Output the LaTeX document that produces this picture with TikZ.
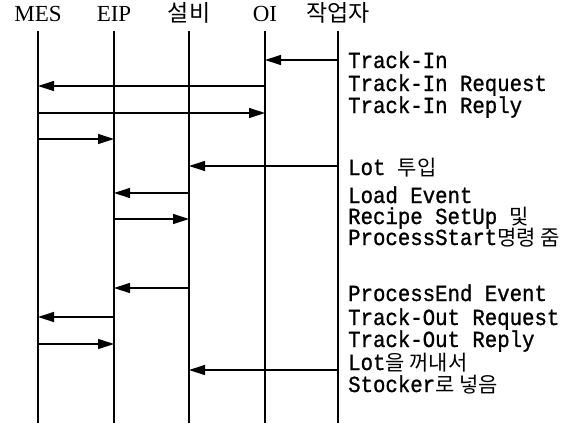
\documentclass[tikz,border=0pt]{standalone}
\usepackage{fontspec}
\setmainfont{Liberation Serif}
\newfontfamily\lblfont[FakeStretch=0.9,FakeBold=1]{Liberation Mono}
\newfontfamily\kr{Noto Sans CJK KR}
\newcommand\krs{\kr\fontsize{21}{21}\selectfont}
\usetikzlibrary{arrows.meta}

\begin{document}
\begin{tikzpicture}[
    x=1pt, y=-1pt,
    head/.style={font=\fontsize{23}{23}\selectfont, anchor=base, inner sep=0pt},
    msglabel/.style={font=\lblfont\fontsize{23}{22}\selectfont, anchor=base west, inner sep=0pt, text height=15pt, text depth=5pt},
    life/.style={line width=1.8pt},
    msg/.style={line width=1.3pt, -{Triangle[length=16pt,width=10pt]}},
]
\useasboundingbox (0,0) rectangle (586,423);

% Lifeline heads
\node[head] (mes) at (38,21) {MES};
\node[head] (eip) at (114,21) {EIP};
\node[head] (eqp) at (189,21) {\kr 설비};
\node[head] (oi)  at (265,21) {OI};
\node[head] (opr) at (338,21) {\kr 작업자};

% Lifelines
\coordinate (top) at (0,31);
\coordinate (bot) at (0,423);
\foreach \n in {mes,eip,eqp,oi,opr}
    \draw[life] (\n |- top) -- (\n |- bot);

% Message rows
\coordinate (r1) at (0,60);
\coordinate (r2) at (0,86);
\coordinate (r3) at (0,113);
\coordinate (r4) at (0,139);
\coordinate (r5) at (0,166);
\coordinate (r6) at (0,193);
\coordinate (r7) at (0,219);
\coordinate (r8) at (0,288);
\coordinate (r9) at (0,317);
\coordinate (r10) at (0,344);
\coordinate (r11) at (0,370);

% Messages
\draw[msg] (opr |- r1) -- (oi |- r1);
\draw[msg] (oi |- r2) -- (mes |- r2);
\draw[msg] (mes |- r3) -- (oi |- r3);
\draw[msg] (mes |- r4) -- (eip |- r4);
\draw[msg] (opr |- r5) -- (eqp |- r5);
\draw[msg] (eqp |- r6) -- (eip |- r6);
\draw[msg] (eip |- r7) -- (eqp |- r7);
\draw[msg] (eqp |- r8) -- (eip |- r8);
\draw[msg] (eip |- r9) -- (mes |- r9);
\draw[msg] (mes |- r10) -- (eip |- r10);
\draw[msg] (opr |- r11) -- (eqp |- r11);

% Labels
\node[msglabel] (l1) at (348,68) {Track-In};
\node[msglabel] (l2) at (348,91) {Track-In Request};
\node[msglabel] (l3) at (348,113) {Track-In Reply};
\node[msglabel] (l5) at (348,175) {Lot {\krs 투입}};
\node[msglabel] (l6) at (348,203) {Load Event};
\node[msglabel] (l7a) at (348,224) {Recipe SetUp {\krs 및}};
\node[msglabel] (l7b) at (348,245) {ProcessStart{\krs 명령 줌}};
\node[msglabel] (l8) at (348,301) {ProcessEnd Event};
\node[msglabel] (l9) at (348,325) {Track-Out Request};
\node[msglabel] (l10) at (348,347) {Track-Out Reply};
\node[msglabel] (l11a) at (348,370) {Lot{\krs 을 꺼내서}};
\node[msglabel] (l11b) at (348,392) {Stocker{\krs 로 넣음}};

\end{tikzpicture}
\end{document}
